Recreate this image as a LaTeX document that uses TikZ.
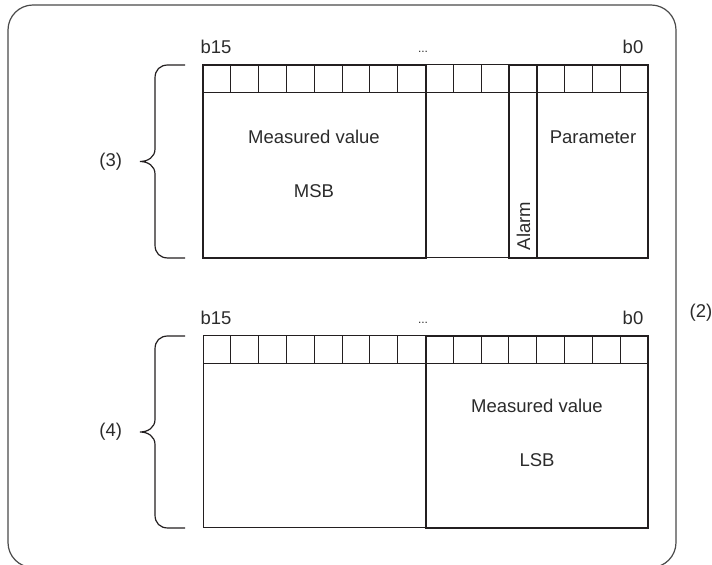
\documentclass[tikz,border=0pt]{standalone}
\usepackage{fontspec}
\setmainfont{Liberation Sans}
\usetikzlibrary{positioning}
\definecolor{ink}{HTML}{231F20}
\definecolor{txt}{HTML}{2B2B2B}
\definecolor{rim}{HTML}{4A4A4A}

\begin{document}
\begin{tikzpicture}[x=0.5pt,y=-0.5pt,
  hair/.style={line width=0.5pt,draw=ink},
  heavy/.style={line width=1.25pt,draw=ink},
  outer/.style={line width=0.6pt,draw=rim,rounded corners=12.5pt},
  brc/.style={line width=0.6pt,draw=ink},
  lbl/.style={font=\fontsize{9.25}{11}\selectfont,text=txt,inner sep=0pt},
  bit/.style={lbl,anchor=base},
  gap/.style={bit,font=\fontsize{6}{7}\selectfont}]
\useasboundingbox (0,0) rectangle (712,565);
\draw[outer] (8,5) rectangle (676,567.5);

% upper word: measured value MSB, alarm, parameter
\draw[hair] (203,65) rectangle (648,258);
\draw[hair] (203,93) -- (648,93);
\foreach \i in {1,...,15} \draw[hair] ({203+27.8125*\i},65) -- ++(0,28);
\draw[heavy] (203,65) rectangle (426,258);
\draw[heavy] (509,65) rectangle (537,258);
\draw[heavy] (537,65) rectangle (648,258);
\node[bit] (hi15) at (216,54) {b15};
\node[gap] (hidots) at (423,53) {...};
\node[bit] (hi0) at (633,54) {b0};
\node[bit] (mvhi) at (314,144) {Measured value};
\node[bit] (msb) at (314,198) {MSB};
\node[bit] (par) at (593,144) {Parameter};
\node[lbl,rotate=90] (alm) at (523.5,226) {Alarm};

% lower word: measured value LSB
\draw[hair] (203,336) rectangle (648,528);
\draw[hair] (203,364) -- (648,364);
\foreach \i in {1,...,15} \draw[hair] ({203+27.8125*\i},336) -- ++(0,28);
\draw[heavy] (426,336) rectangle (648,528);
\node[bit] (lo15) at (216,325) {b15};
\node[gap] (lodots) at (423,324) {...};
\node[bit] (lo0) at (633,325) {b0};
\node[bit] (mvlo) at (537,413) {Measured value};
\node[bit] (lsb) at (537,467) {LSB};

% braces
\coordinate (tipA) at (140,161.5);
\coordinate (tipB) at (140,432);
\draw[brc] (185,65) -- (168,65) .. controls (160,65) and (155,70) .. (155,78) -- (155,149)
  .. controls (155,157) and (148,161.5) .. (tipA) .. controls (148,161.5) and (155,166) .. (155,174)
  -- (155,245) .. controls (155,253) and (160,258) .. (168,258) -- (185,258);
\draw[brc] (185,336) -- (168,336) .. controls (160,336) and (155,341) .. (155,349) -- (155,419.5)
  .. controls (155,427.5) and (148,432) .. (tipB) .. controls (148,432) and (155,436.5) .. (155,444.5)
  -- (155,515) .. controls (155,523) and (160,528) .. (168,528) -- (185,528);
\node[lbl,left=8.8pt of tipA] (n3) {(3)};
\node[lbl,left=8.8pt of tipB] (n4) {(4)};
\node[lbl] (n2) at (701,313) {(2)};
\end{tikzpicture}
\end{document}
